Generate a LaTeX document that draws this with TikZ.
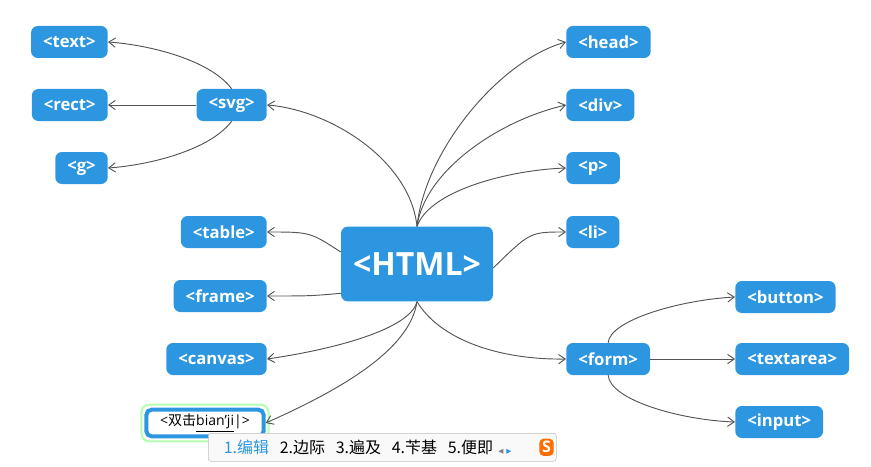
\documentclass[tikz,border=0pt]{standalone}
\usepackage{fontspec}
\setmainfont{Open Sans}
\newfontfamily\cjk{Noto Sans CJK SC}
\newfontfamily\symfont{DejaVu Sans}
\usetikzlibrary{arrows.meta}
\definecolor{topicblue}{HTML}{2C96E0}
\definecolor{linegray}{HTML}{555555}

\begin{document}
\begin{tikzpicture}[x=0.75pt,y=-0.75pt]
      \tikzset{
        topic/.style={fill=topicblue, text=white, rounded corners=5pt,
          minimum height=24pt, inner xsep=9pt, font=\bfseries\fontsize{12.5}{14}\selectfont},
        rtopic/.style={topic, anchor=west},
        ltopic/.style={topic, anchor=east},
        link/.style={draw=linegray, line width=0.7pt, -{Straight Barb[length=5pt,width=7pt]}},
      }
      \useasboundingbox (0,0) rectangle (871,467);
      \node[topic, minimum width=114pt, minimum height=56pt,
        font=\bfseries\fontsize{24}{28}\selectfont] (html) at (417,264) {<HTML>};
      % right side
      \node[rtopic] (head) at (566,42) {<head>};
      \node[rtopic] (div) at (566,105) {<div>};
      \node[rtopic] (p) at (566,168) {<p>};
      \node[rtopic] (li) at (566,232) {<li>};
      \node[rtopic] (form) at (566,359) {<form>};
      \node[rtopic] (button) at (735,297) {<button>};
      \node[rtopic] (textarea) at (735,359) {<textarea>};
      \node[rtopic] (input) at (735,422) {<input>};
      % left side
      \node[ltopic] (svg) at (267,105) {<svg>};
      \node[ltopic] (text) at (108,42) {<text>};
      \node[ltopic] (rect) at (108,105) {<rect>};
      \node[ltopic] (g) at (108,168) {<g>};
      \node[ltopic] (table) at (267,232) {<table>};
      \node[ltopic] (frame) at (267,296) {<frame>};
      \node[ltopic] (canvas) at (267,359) {<canvas>};
      \node[draw=topicblue, line width=3pt, fill=white, rounded corners=4pt,
        minimum width=88pt, minimum height=20pt, font=\fontsize{10.5}{12}\selectfont]
        (edit) at (205,423) {<{\cjk 双击}\underline{bian'ji}|>};
      \draw[green!60!white, opacity=0.5, line width=1.5pt, rounded corners=6pt]
        ([shift={(-3,-3)}]edit.north west) rectangle ([shift={(3,3)}]edit.south east);

      \draw[link] (html.north) .. controls (425,150) and (500,60) .. (head.west);
      \draw[link] (html.north) .. controls (425,170) and (500,120) .. (div.west);
      \draw[link] (html.north) .. controls (430,190) and (510,170) .. (p.west);
      \draw[link] ([yshift=-3pt]html.east) .. controls (530,232) .. (li.west);
      \draw[link] (html.south) .. controls (440,340) and (500,360) .. (form.west);
      \draw[link] (html.north) .. controls (410,160) and (330,110) .. (svg.east);
      \draw[link] ([yshift=9pt]html.west) .. controls (310,232) .. (table.east);
      \draw[link] ([yshift=-22pt]html.west) .. controls (310,296) .. (frame.east);
      \draw[link] (html.south) .. controls (410,330) and (330,350) .. (canvas.east);
      \draw[link] (html.south) .. controls (410,350) and (340,390) .. (edit.east);
      \draw[link] (svg.north) .. controls (210,60) and (150,45) .. (text.east);
      \draw[link] (svg.west) -- (rect.east);
      \draw[link] (svg.south) .. controls (210,150) and (150,165) .. (g.east);
      \draw[link] (form.north) .. controls (610,320) and (680,300) .. (button.west);
      \draw[link] (form.east) -- (textarea.west);
      \draw[link] (form.south) .. controls (610,400) and (680,420) .. (input.west);

      % candidate bar
      \node[draw=gray!50, fill=gray!5, rounded corners=2pt, anchor=north west,
        minimum width=261pt, minimum height=21pt, inner xsep=8pt,
        font=\cjk\fontsize{12}{14}\selectfont, align=left] (ime) at (208,433)
        {\textcolor{topicblue}{1.编辑}\hspace{8pt}2.边际\hspace{8pt}3.遍及\hspace{8pt}4.苄基\hspace{8pt}5.便即\hspace{4pt}{\symfont\color{gray}\tiny◀}\,{\symfont\color{topicblue}\tiny▶}\hspace{22pt}};
      \node[fill=orange!85!red, text=white, rounded corners=3pt, inner sep=2pt,
        font=\bfseries\fontsize{12}{12}\selectfont, anchor=east] (logo)
        at ([xshift=-2pt]ime.east) {S};
\end{tikzpicture}
\end{document}
